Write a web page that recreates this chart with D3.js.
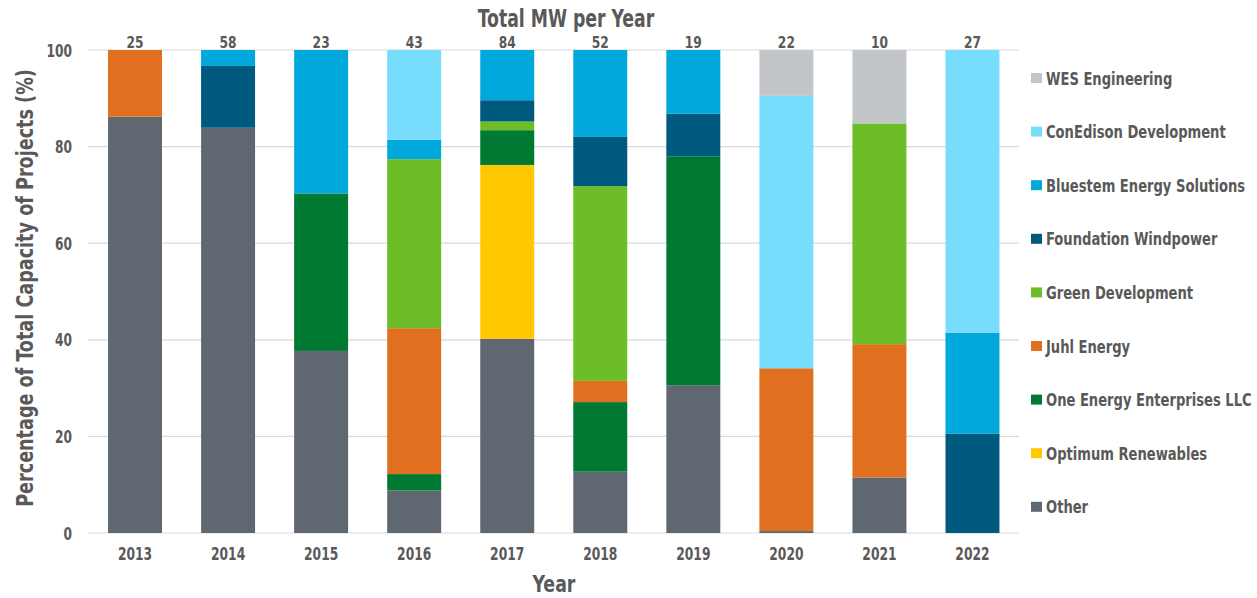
<!DOCTYPE html>
<html><head><meta charset="utf-8">
<script src="https://cdn.jsdelivr.net/npm/d3@7"></script>
<style>
body{margin:0;background:#fff;}
text{font-family:"DejaVu Sans Condensed","Liberation Sans Narrow",sans-serif;font-weight:bold;fill:#595959;}
</style></head>
<body><svg id="c" width="1257" height="598"></svg>
<script>
const years = ["2013","2014","2015","2016","2017","2018","2019","2020","2021","2022"];
const totalMW = [25,58,23,43,84,52,19,22,10,27];
const companies = ["Other","Optimum Renewables","One Energy Enterprises LLC","Juhl Energy","Green Development","Foundation Windpower","Bluestem Energy Solutions","ConEdison Development","WES Engineering"];
const colors = ["#5f6870","#ffc800","#007a33","#e07020","#6cbd27","#005a80","#00a8dc","#78ddfc","#c3c6c8"];
// percentages per company, per year
const other      = [86.2,83.9,37.7, 8.8,40.2,12.7,30.6, 0.4,11.5, 0];
const optimum    = [0,0,0,0,36.0,0,0,0,0,0];
const oneEnergy  = [0,0,32.6,3.4,7.2,14.4,47.4,0,0,0];
const juhl       = [13.8,0,0,30.2,0,4.4,0,33.7,27.6,0];
const green      = [0,0,0,35.0,1.8,40.3,0,0,45.7,0];
const foundation = [0,12.8,0,0,4.4,10.2,8.8,0,0,20.6];
const bluestem   = [0,3.3,29.7,4.0,10.4,18.0,13.2,0,0,20.9];
const conEdison  = [0,0,0,18.6,0,0,0,56.4,0,58.5];
const wes        = [0,0,0,0,0,0,0,9.5,15.2,0];
const yTicks = [0,20,40,60,80,100];

const seriesVals = [other,optimum,oneEnergy,juhl,green,foundation,bluestem,conEdison,wes];
const rows = years.map((y,i)=>{const r={year:y}; companies.forEach((c,k)=>r[c]=seriesVals[k][i]); return r;});
const stack = d3.stack().keys(companies)(rows);

// horizontally condense text via a transform (keeps position anchor)
function squeeze(sel,k,rot){
  sel.each(function(){
    const t=d3.select(this);
    const tx=+t.attr("x")||0, ty=+t.attr("y")||0;
    const base=t.attr("data-base")||"";
    t.attr("x",0).attr("y",0)
     .attr("transform",`${base} translate(${tx},${ty}) ${rot?`rotate(${rot})`:""} scale(${k},1)`);
  });
}

const svg = d3.select("#c");
const x = d3.scaleBand().domain(years).range([88.5,1019]).paddingInner(0.42).paddingOuter(0.21);
const y = d3.scaleLinear().domain([0,100]).range([533,50]);
const color = d3.scaleOrdinal().domain(companies).range(colors);

// grid
svg.append("g").selectAll("line").data(yTicks).join("line")
  .attr("x1",88).attr("x2",1019).attr("y1",d=>y(d)).attr("y2",d=>y(d))
  .attr("stroke","#d9d9d9").attr("stroke-width",1.2);

// bars
svg.append("g").selectAll("g").data(stack).join("g").attr("fill",d=>color(d.key))
  .selectAll("rect").data(d=>d).join("rect")
  .attr("x",d=>x(d.data.year)).attr("width",x.bandwidth())
  .attr("y",d=>y(d[1])).attr("height",d=>Math.max(0,y(d[0])-y(d[1])));

// y axis
const ya = svg.append("g").attr("transform","translate(88,0)")
  .call(d3.axisLeft(y).tickValues(yTicks).tickSize(0).tickPadding(16));
ya.select(".domain").remove();
ya.selectAll("text").style("font-size","17px").style("font-family",null).attr("fill",null).attr("dy","0.36em");
squeeze(ya.selectAll("text"),0.8);

// x axis
const xa = svg.append("g").attr("transform","translate(0,533)")
  .call(d3.axisBottom(x).tickSize(0).tickPadding(14));
xa.select(".domain").remove();
xa.selectAll("text").style("font-size","18px").style("font-family",null).attr("fill",null);
squeeze(xa.selectAll("text"),0.76);

// MW labels
const mw = svg.append("g").selectAll("text").data(years).join("text")
  .attr("x",d=>x(d)+x.bandwidth()/2).attr("y",48).attr("text-anchor","middle")
  .style("font-size","16px").text((d,i)=>totalMW[i]);
squeeze(mw,0.85);

// titles
const t1 = svg.append("text").attr("x",566).attr("y",27).attr("text-anchor","middle").style("font-size","24px").text("Total MW per Year");
squeeze(t1,0.8);
const t2 = svg.append("text").attr("x",554).attr("y",592).attr("text-anchor","middle").style("font-size","23px").text("Year");
squeeze(t2,0.84);
const t3 = svg.append("text").attr("x",33).attr("y",288).attr("text-anchor","middle").style("font-size","22.5px").text("Percentage of Total Capacity of Projects (%)");
squeeze(t3,0.87,-90);

// legend
const legOrder = companies.slice().reverse();
const lg = svg.append("g").selectAll("g").data(legOrder).join("g")
  .attr("transform",(d,i)=>`translate(1031,${78+i*53.6})`);
lg.append("rect").attr("x",0).attr("y",-5).attr("width",11).attr("height",10).attr("fill",d=>color(d));
const lt = lg.append("text").attr("x",15).attr("y",6.5).style("font-size","18px").text(d=>d);
squeeze(lt,0.81);
</script></body></html>
